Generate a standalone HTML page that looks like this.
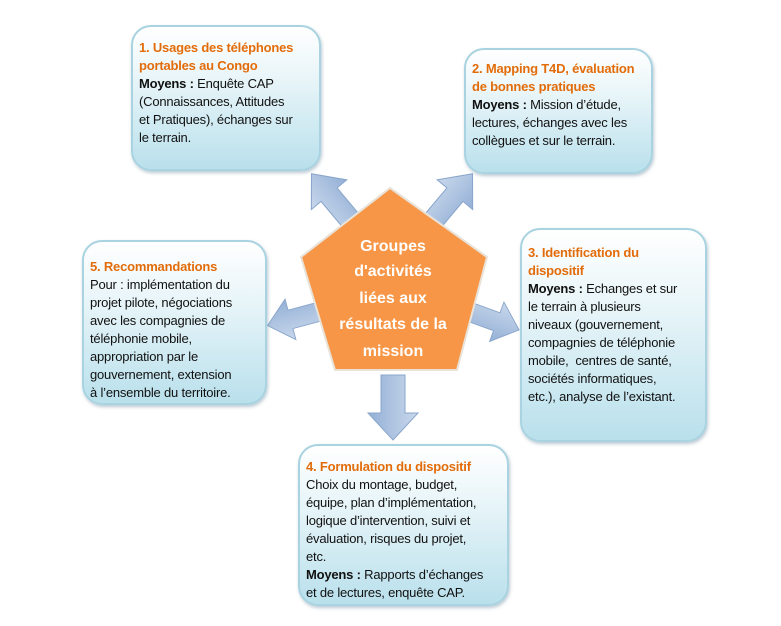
<!DOCTYPE html>
<html><head><meta charset="utf-8"><style>
body{margin:0;width:781px;height:626px;background:#fff;position:relative;overflow:hidden;font-family:"Liberation Sans",sans-serif}
.b{position:absolute;box-sizing:border-box;border:2px solid #a9d3e0;border-radius:20px;background:linear-gradient(#ffffff 0%,#e6f4f8 40%,#b9e0ec 100%);box-shadow:1px 2px 3px rgba(120,150,170,.5);font-size:13px;line-height:18px;color:#111;padding:10px 6px;white-space:nowrap;letter-spacing:-0.2px}
.t{color:#e36c0a;font-weight:bold}
b{font-weight:bold}
</style></head><body>
<svg width="781" height="626" style="position:absolute;left:0;top:0">
<defs><linearGradient id="ag" x1="0" y1="0" x2="0" y2="1"><stop offset="0" stop-color="#c9d8ec"/><stop offset="1" stop-color="#94b0d6"/></linearGradient></defs>
<g fill="url(#ag)" stroke="#8aa6cc" stroke-width="1">
<polygon points="0,-10 34,-10 34,-22 60,0 34,22 34,10 0,10" transform="translate(352,222) rotate(-130) scale(1.05)"/>
<polygon points="0,-10 34,-10 34,-22 60,0 34,22 34,10 0,10" transform="translate(432,222) rotate(-50) scale(1.05)"/>
<polygon points="0,-10 30,-10 30,-22 55,0 30,22 30,10 0,10" transform="translate(318,312) rotate(165) scale(0.95)"/>
<polygon points="0,-10 30,-10 30,-22 55,0 30,22 30,10 0,10" transform="translate(470,312) rotate(20) scale(0.95)"/>
<polygon points="0,-12 38,-12 38,-25 65,0 38,25 38,12 0,12" transform="translate(393,375) rotate(90)"/>
</g>
<polygon points="390,188 487,257 457,370 335,370 301,257" fill="#f79646" stroke="#e9e2d8" stroke-width="2"/>
<g fill="#fff" font-weight="bold" font-size="16" text-anchor="middle" font-family="Liberation Sans,sans-serif">
<text x="393" y="251">Groupes</text>
<text x="393" y="276">d'activités</text>
<text x="393" y="303">liées aux</text>
<text x="393" y="329">résultats de la</text>
<text x="393" y="356">mission</text>
</g>
</svg>
<div class="b" style="left:131px;top:25px;width:190px;height:146px;padding-top:12px"><span class="t">1. Usages des téléphones<br>portables au Congo</span><br><b>Moyens :</b> Enquête CAP<br>(Connaissances, Attitudes<br>et Pratiques), échanges sur<br>le terrain.</div>
<div class="b" style="left:464px;top:48px;width:189px;height:126px;padding-top:10px"><span class="t">2. Mapping T4D, évaluation<br>de bonnes pratiques</span><br><b>Moyens :</b> Mission d’étude,<br>lectures, échanges avec les<br>collègues et sur le terrain.</div>
<div class="b" style="left:520px;top:228px;width:187px;height:214px;padding-top:14px"><span class="t">3. Identification du<br>dispositif</span><br><b>Moyens :</b> Echanges et sur<br>le terrain à plusieurs<br>niveaux (gouvernement,<br>compagnies de téléphonie<br>mobile,&nbsp; centres de santé,<br>sociétés informatiques,<br>etc.), analyse de l’existant.</div>
<div class="b" style="left:82px;top:240px;width:185px;height:165px;padding-top:16px"><span class="t">5. Recommandations</span><br>Pour : implémentation du<br>projet pilote, négociations<br>avec les compagnies de<br>téléphonie mobile,<br>appropriation par le<br>gouvernement, extension<br>à l’ensemble du territoire.</div>
<div class="b" style="left:298px;top:444px;width:211px;height:162px;padding-top:12px"><span class="t">4. Formulation du dispositif</span><br>Choix du montage, budget,<br>équipe, plan d’implémentation,<br>logique d’intervention, suivi et<br>évaluation, risques du projet,<br>etc.<br><b>Moyens :</b> Rapports d’échanges<br>et de lectures, enquête CAP.</div>
</body></html>
